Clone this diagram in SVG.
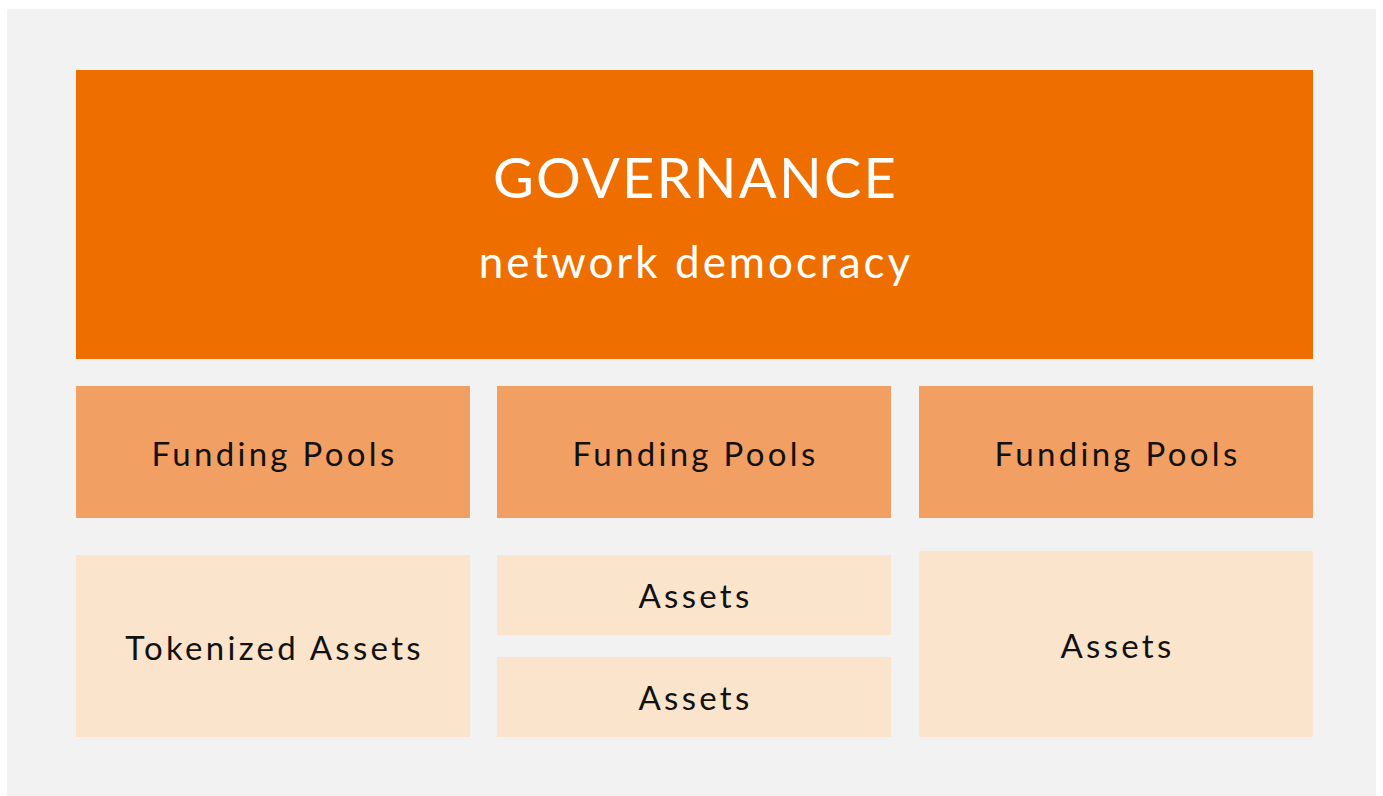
<svg xmlns="http://www.w3.org/2000/svg" width="1383" height="796" viewBox="0 0 1383 796">
<style>
.t{font-family:Lato,"Liberation Sans",sans-serif;text-anchor:middle}
.w{fill:#ffffff}
.d{fill:#111111;font-size:33px;letter-spacing:3.3px}
.gov{fill:#EE6F00}
.fp{fill:#F29F64}
.as{fill:#FBE4CC}
</style>
<rect x="0" y="0" width="1383" height="796" fill="#ffffff"/>
<rect x="7" y="9" width="1369" height="787" fill="#F2F2F2"/>
<g id="governance">
<rect class="gov" x="76" y="70" width="1237" height="289"/>
<text class="t w" x="695.5" y="198" font-size="56" letter-spacing="2.2">GOVERNANCE</text>
<text class="t w" x="696" y="278" font-size="44" letter-spacing="3">network democracy</text>
</g>
<g id="funding1">
<rect class="fp" x="76" y="386" width="394" height="132"/>
<text class="t d" x="274.5" y="466">Funding Pools</text>
</g>
<g id="funding2">
<rect class="fp" x="497" y="386" width="394" height="132"/>
<text class="t d" x="695.5" y="466">Funding Pools</text>
</g>
<g id="funding3">
<rect class="fp" x="919" y="386" width="394" height="132"/>
<text class="t d" x="1117.5" y="466">Funding Pools</text>
</g>
<g id="tokenized">
<rect class="as" x="76" y="555" width="394" height="182"/>
<text class="t d" x="274.5" y="660">Tokenized Assets</text>
</g>
<g id="assets1">
<rect class="as" x="497" y="555" width="394" height="80"/>
<text class="t d" x="695.5" y="608">Assets</text>
</g>
<g id="assets2">
<rect class="as" x="497" y="657" width="394" height="80"/>
<text class="t d" x="695.5" y="710">Assets</text>
</g>
<g id="assets3">
<rect class="as" x="919" y="551" width="394" height="186"/>
<text class="t d" x="1117.5" y="658">Assets</text>
</g>
<g id="connectors"></g>
</svg>
